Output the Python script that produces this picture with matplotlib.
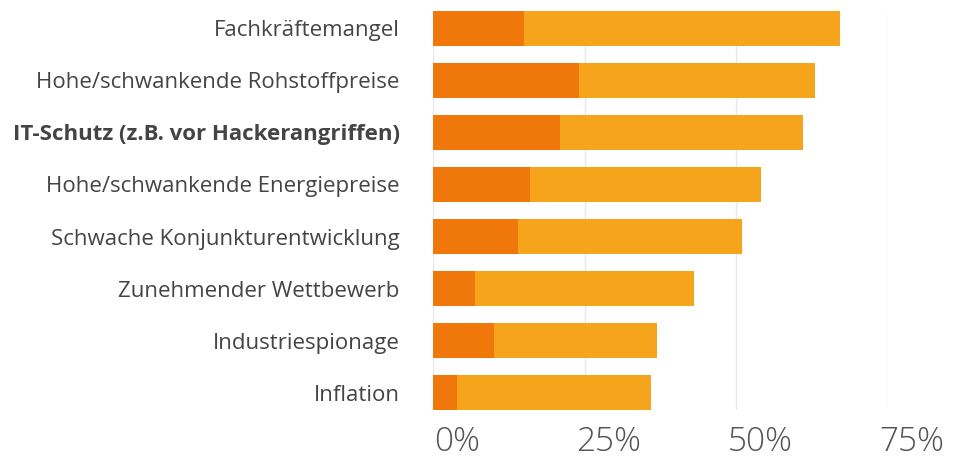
import numpy as np
import matplotlib
matplotlib.use('Agg')
from matplotlib import pyplot as plt
from matplotlib.transforms import ScaledTranslation

plt.rcParams['font.family'] = ['Open Sans', 'DejaVu Sans']

kategorien = ['Fachkräftemangel',
              'Hohe/schwankende Rohstoffpreise',
              'IT-Schutz (z.B. vor Hackerangriffen)',
              'Hohe/schwankende Energiepreise',
              'Schwache Konjunkturentwicklung',
              'Zunehmender Wettbewerb',
              'Industriespionage',
              'Inflation']
# Anteile in %: dunkler Teil + heller Teil
stark = [15, 24, 21, 16, 14, 7, 10, 4]
etwas = [52, 39, 40, 38, 37, 36, 27, 32]
xticks = [0, 25, 50, 75]
xticklabels = ['0%', '25%', '50%', '75%']

cor_escura = '#F0780A'
cor_clara = '#F6A41B'

fig = plt.figure(figsize=(9.68, 4.66), dpi=100)
ax = fig.add_axes([0.4473, 0.1202, 0.4701, 0.8562])

y = np.arange(len(kategorien))
altura = 0.67
ax.barh(y, stark, height=altura, color=cor_escura, zorder=3)
ax.barh(y, etwas, left=stark, height=altura, color=cor_clara, zorder=3)

ax.set_ylim(len(kategorien) - 1 + altura / 2, -altura / 2)
ax.set_xlim(0, 75)
ax.set_xticks(xticks)
ax.set_xticklabels(xticklabels, fontsize=24, fontweight='light', color='#555555')
ax.set_yticks(y)
ax.set_yticklabels(kategorien, fontsize=16, color='#444444')
ax.get_yticklabels()[2].set_fontweight('bold')

ax.tick_params(axis='x', length=0, pad=11)
ax.tick_params(axis='y', length=0, pad=24)
for lbl in ax.get_xticklabels():
    lbl.set_transform(lbl.get_transform() + ScaledTranslation(24 / 100, 0, fig.dpi_scale_trans))

ax.grid(axis='x', color='#e8e8e8', linewidth=1, zorder=0)
ax.grid(axis='y', visible=False)
for s in ax.spines.values():
    s.set_visible(False)

plt.savefig('out.png', dpi=100)
